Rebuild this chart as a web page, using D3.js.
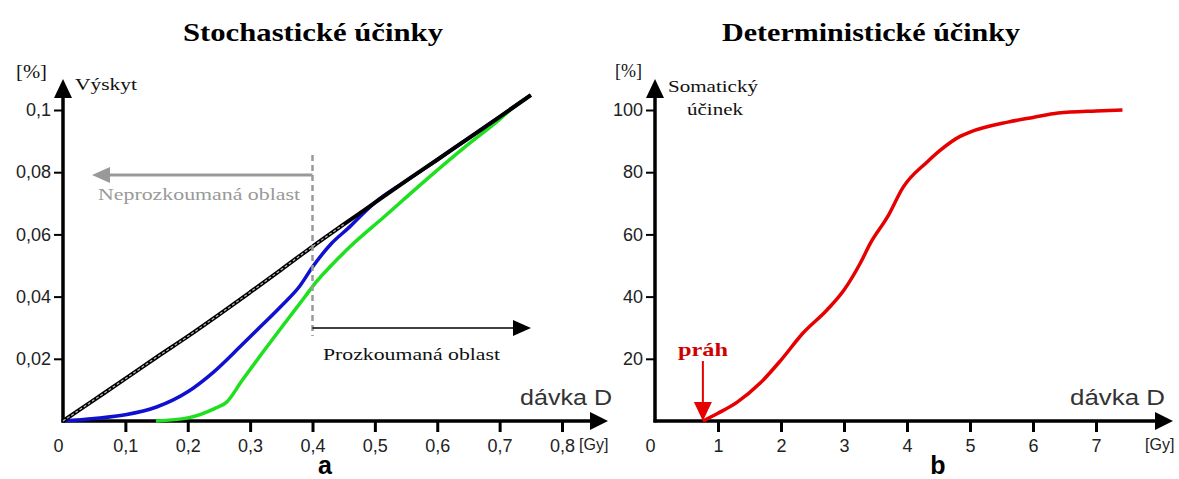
<!DOCTYPE html>
<html>
<head>
<meta charset="utf-8">
<script src="https://cdn.jsdelivr.net/npm/d3@7"></script>
<style>
  body { margin: 0; background: #fff; }
  svg { display: block; }
  .serif { font-family: "Liberation Serif", "Times New Roman", serif; }
  .sans { font-family: "Liberation Sans", Arial, sans-serif; }
</style>
</head>
<body>
<div id="chart"></div>
<script>
// ---- data ----
// left panel: stochastic effects, dose in Gy, incidence in %
const doseBlack = [0, 0.05, 0.1, 0.15, 0.2, 0.25, 0.3, 0.35, 0.4, 0.45, 0.5, 0.55, 0.6, 0.65, 0.7, 0.75];
const incBlack  = [0, 0.0068, 0.0136, 0.0205, 0.0272, 0.0342, 0.0414, 0.0487, 0.0561, 0.0632, 0.0702, 0.0772, 0.0840, 0.0909, 0.0978, 0.1048];

const doseBlue = [0, 0.05, 0.1, 0.15, 0.2, 0.24, 0.287, 0.32, 0.35, 0.38, 0.4, 0.43, 0.46, 0.48, 0.5, 0.55, 0.6, 0.65, 0.7, 0.75];
const incBlue  = [0, 0.0008, 0.002, 0.0045, 0.0094, 0.0155, 0.0245, 0.031, 0.037, 0.0435, 0.0495, 0.057, 0.0625, 0.0665, 0.0702, 0.0772, 0.0840, 0.0909, 0.0978, 0.1048];

const doseGreen = [0.149, 0.2, 0.243, 0.262, 0.287, 0.32, 0.35, 0.387, 0.405, 0.43, 0.46, 0.514, 0.583, 0.65, 0.7, 0.72, 0.75];
const incGreen  = [0, 0.001, 0.004, 0.006, 0.013, 0.022, 0.030, 0.0397, 0.0445, 0.050, 0.056, 0.0655, 0.0777, 0.089, 0.097, 0.1005, 0.1048];

const xTicksA = [0, 0.1, 0.2, 0.3, 0.4, 0.5, 0.6, 0.7, 0.8];
const xLabelsA = ['0', '0,1', '0,2', '0,3', '0,4', '0,5', '0,6', '0,7', '0,8'];
const yTicksA = [0.02, 0.04, 0.06, 0.08, 0.1];
const yLabelsA = ['0,02', '0,04', '0,06', '0,08', '0,1'];
const boundaryA = 0.4; // explored / unexplored region boundary

// right panel: deterministic effects, dose in Gy, somatic effect in %
const doseRed = [0.76, 1.0, 1.3, 1.67, 2.0, 2.35, 2.73, 3.0, 3.26, 3.42, 3.69, 3.94, 4.32, 4.53, 4.85, 5.0, 5.6, 6.0, 6.4, 7.0, 7.42];
const effRed  = [0, 2.5, 6, 12.2, 19.6, 28.3, 35.7, 42.1, 50.8, 57.2, 65.6, 75.2, 83.3, 87.1, 91.6, 92.9, 96.1, 97.6, 99.0, 99.7, 100];

const xTicksB = [0, 1, 2, 3, 4, 5, 6, 7];
const xLabelsB = ['0', '1', '2', '3', '4', '5', '6', '7'];
const yTicksB = [20, 40, 60, 80, 100];
const yLabelsB = ['20', '40', '60', '80', '100'];
const thresholdB = 0.76; // práh

const W = 1179, H = 479;

const svg = d3.select('#chart').append('svg')
  .attr('width', W)
  .attr('height', H);

svg.append('rect').attr('width', W).attr('height', H).attr('fill', '#fff');

// scales
const xA = d3.scaleLinear().domain([0, 0.8]).range([63, 562]);
const yA = d3.scaleLinear().domain([0, 0.1]).range([421, 110]);
const xB = d3.scaleLinear().domain([0, 7]).range([655, 1096]);
const yB = d3.scaleLinear().domain([0, 100]).range([421, 110]);

function tri(g, pts, color) {
  g.append('path')
    .attr('d', 'M' + pts.map(p => p.join(',')).join('L') + 'Z')
    .attr('fill', color);
}

function drawAxes(x, y, xTicks, xLabels, yTicks, yLabels, xEnd) {
  const x0 = x(0), y0 = y(0);

  const gx = svg.append('g')
    .attr('transform', 'translate(0,' + y0 + ')')
    .call(d3.axisBottom(x).tickValues(xTicks).tickSize(11).tickPadding(4)
      .tickFormat((d, i) => xLabels[i]));
  gx.select('.domain').remove();
  gx.selectAll('line').attr('stroke', '#000').attr('stroke-width', 3)
    .filter(d => d === 0).remove();
  gx.selectAll('text')
    .attr('class', 'sans')
    .style('font-size', '18px')
    .attr('fill', '#222')
    .attr('dx', d => d === 0 ? -5 : 0)
    .attr('dy', '0.9em');

  const gy = svg.append('g')
    .attr('transform', 'translate(' + x0 + ',0)')
    .call(d3.axisLeft(y).tickValues(yTicks).tickSize(9).tickPadding(3)
      .tickFormat((d, i) => yLabels[i]));
  gy.select('.domain').remove();
  gy.selectAll('line').attr('stroke', '#000').attr('stroke-width', 2);
  gy.selectAll('text')
    .attr('class', 'sans')
    .style('font-size', '18px')
    .attr('fill', '#222');

  // axis lines with arrow heads
  svg.append('line')
    .attr('x1', x0).attr('y1', y0 + 1.5).attr('x2', x0).attr('y2', 95)
    .attr('stroke', '#000').attr('stroke-width', 3.5);
  tri(svg, [[x0, 79], [x0 - 9, 98], [x0 + 9, 98]], '#000');

  svg.append('line')
    .attr('x1', x0 - 1.5).attr('y1', y0).attr('x2', xEnd - 16).attr('y2', y0)
    .attr('stroke', '#000').attr('stroke-width', 3.5);
  tri(svg, [[xEnd, y0], [xEnd - 18, y0 - 9], [xEnd - 18, y0 + 9]], '#000');
}

drawAxes(xA, yA, xTicksA, xLabelsA, yTicksA, yLabelsA, 608);
drawAxes(xB, yB, xTicksB, xLabelsB, yTicksB, yLabelsB, 1173);

// ---- left panel marks ----
const lineA = d3.line().x(d => xA(d[0])).y(d => yA(d[1])).curve(d3.curveMonotoneX);

const blackPts = d3.zip(doseBlack, incBlack);
const bluePts = d3.zip(doseBlue, incBlue);
const greenPts = d3.zip(doseGreen, incGreen);

svg.append('path').datum(greenPts).attr('d', lineA)
  .attr('fill', 'none').attr('stroke', '#1ee01e').attr('stroke-width', 3.5);
svg.append('path').datum(bluePts).attr('d', lineA)
  .attr('fill', 'none').attr('stroke', '#1010d0').attr('stroke-width', 3.5);
svg.append('path').datum(blackPts).attr('d', lineA)
  .attr('fill', 'none').attr('stroke', '#000').attr('stroke-width', 4);
svg.append('path').datum(blackPts.filter(d => d[0] <= 0.45)).attr('d', lineA)
  .attr('fill', 'none').attr('stroke', '#bbb').attr('stroke-width', 1.2)
  .attr('stroke-dasharray', '3,2');

// boundary line and region arrows
const bx = xA(boundaryA);
svg.append('line')
  .attr('x1', bx).attr('x2', bx).attr('y1', 155).attr('y2', 336)
  .attr('stroke', '#999').attr('stroke-width', 2.5).attr('stroke-dasharray', '6,4');

svg.append('line')
  .attr('x1', bx).attr('x2', 108).attr('y1', 175).attr('y2', 175)
  .attr('stroke', '#999').attr('stroke-width', 3);
tri(svg, [[92, 175], [110, 167], [110, 183]], '#999');

svg.append('text').attr('class', 'serif')
  .attr('x', 98).attr('y', 200)
  .attr('textLength', 202).attr('lengthAdjust', 'spacingAndGlyphs')
  .style('font-size', '17px').attr('fill', '#999')
  .text('Neprozkoumaná oblast');

svg.append('line')
  .attr('x1', bx).attr('x2', 514).attr('y1', 328).attr('y2', 328)
  .attr('stroke', '#000').attr('stroke-width', 1.5);
tri(svg, [[531, 328], [513, 320], [513, 336]], '#000');

svg.append('text').attr('class', 'serif')
  .attr('x', 323).attr('y', 360)
  .attr('textLength', 177).attr('lengthAdjust', 'spacingAndGlyphs')
  .style('font-size', '17px').attr('fill', '#111')
  .text('Prozkoumaná oblast');

// ---- right panel marks ----
const lineB = d3.line().x(d => xB(d[0])).y(d => yB(d[1])).curve(d3.curveMonotoneX);
svg.append('path').datum(d3.zip(doseRed, effRed)).attr('d', lineB)
  .attr('fill', 'none').attr('stroke', '#e60000').attr('stroke-width', 3.5);

const tx = xB(thresholdB);
svg.append('line')
  .attr('x1', tx).attr('x2', tx).attr('y1', 361).attr('y2', 404)
  .attr('stroke', '#e60000').attr('stroke-width', 2);
tri(svg, [[tx, 421], [tx - 9, 402], [tx + 9, 402]], '#e60000');

svg.append('text').attr('class', 'serif')
  .attr('x', 678).attr('y', 356)
  .attr('textLength', 50).attr('lengthAdjust', 'spacingAndGlyphs')
  .style('font-size', '19px').style('font-weight', 'bold').attr('fill', '#d00000')
  .text('práh');

// ---- titles and labels ----
function label(x, y, txt, cls, size, opts) {
  opts = opts || {};
  const t = svg.append('text').attr('class', cls)
    .attr('x', x).attr('y', y)
    .style('font-size', size + 'px')
    .attr('fill', opts.fill || '#111')
    .attr('text-anchor', opts.anchor || 'start')
    .text(txt);
  if (opts.bold) t.style('font-weight', 'bold');
  if (opts.len) t.attr('textLength', opts.len).attr('lengthAdjust', 'spacingAndGlyphs');
  return t;
}

label(183, 41, 'Stochastické účinky', 'serif', 26, { bold: true, len: 260, fill: '#000' });
label(722, 41, 'Deterministické účinky', 'serif', 26, { bold: true, len: 298, fill: '#000' });

label(16, 78, '[%]', 'serif', 18, { len: 31 });
label(75, 90, 'Výskyt', 'serif', 16, { len: 62 });
label(615, 77, '[%]', 'serif', 18, { len: 27 });
label(668, 92, 'Somatický', 'serif', 17, { len: 90 });
label(687, 115, 'účinek', 'serif', 17, { len: 56 });

label(520, 405, 'dávka D', 'sans', 22, { len: 92, fill: '#333' });
label(1070, 405, 'dávka D', 'sans', 22, { len: 95, fill: '#333' });
label(579, 450, '[Gy]', 'sans', 16, { fill: '#222' });
label(1145, 450, '[Gy]', 'sans', 16, { fill: '#222' });

label(325, 474, 'a', 'sans', 25, { bold: true, anchor: 'middle', fill: '#000' });
label(938, 474, 'b', 'sans', 25, { bold: true, anchor: 'middle', fill: '#000' });
</script>
</body>
</html>
